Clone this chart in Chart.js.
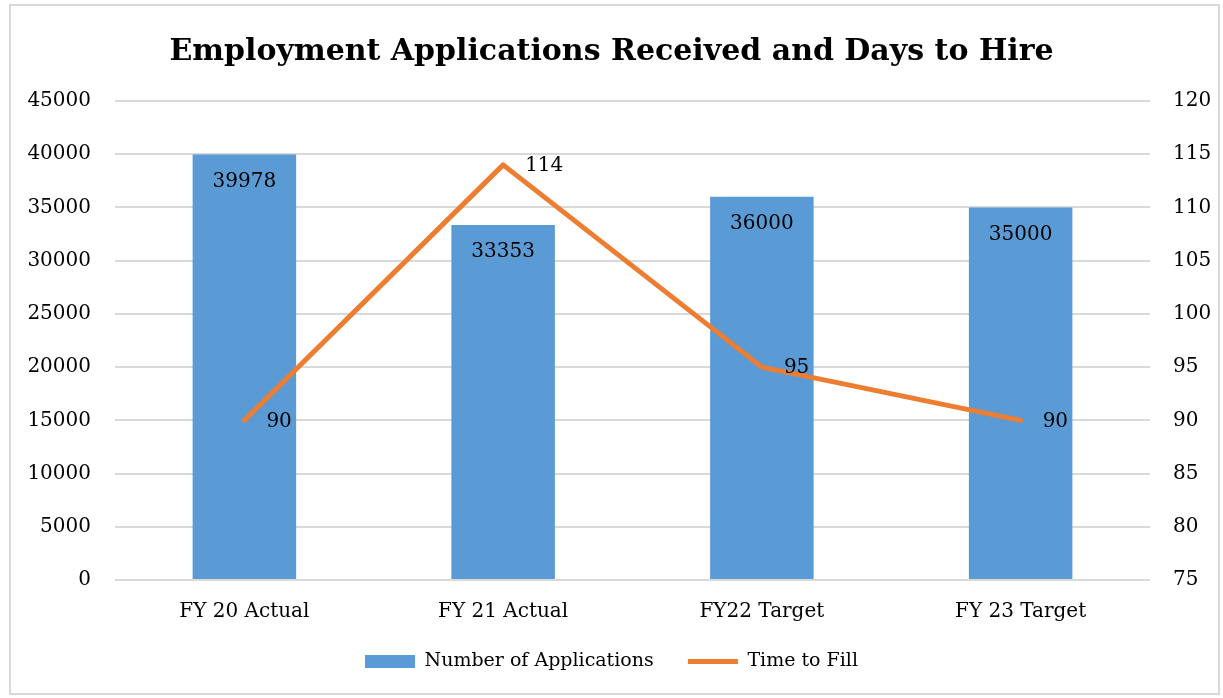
<!DOCTYPE html>
<html>
<head>
<meta charset="utf-8">
<script src="https://cdn.jsdelivr.net/npm/chart.js@4.4.0/dist/chart.umd.min.js"></script>
<style>
  html, body { margin: 0; padding: 0; background: #fff; }
  #wrap { position: relative; width: 1223px; height: 698px; }
  #frame { position: absolute; left: 9px; top: 4px; width: 1207px; height: 687px; border: 2px solid #d9d9d9; }
  canvas { position: absolute; left: 0; top: 0; }
</style>
</head>
<body>
<div id="wrap">
  <div id="frame"></div>
  <canvas id="chart" width="1223" height="698"></canvas>
</div>
<script>
const categories = ['FY 20 Actual', 'FY 21 Actual', 'FY22 Target', 'FY 23 Target'];
const applications = [39978, 33353, 36000, 35000];
const timeToFill = [90, 114, 95, 90];
const leftTicks = [0, 5000, 10000, 15000, 20000, 25000, 30000, 35000, 40000, 45000];
const rightTicks = [75, 80, 85, 90, 95, 100, 105, 110, 115, 120];

const BLUE = '#5b9bd5';
const ORANGE = '#ed7d31';
const FONT = 'DejaVu Serif';

// value labels: inside the top of bars, right of line points
const valueLabels = {
  id: 'valueLabels',
  afterDatasetsDraw(chart) {
    const ctx = chart.ctx;
    ctx.save();
    ctx.font = '20px "' + FONT + '"';
    ctx.fillStyle = '#000';
    ctx.textBaseline = 'middle';
    chart.getDatasetMeta(1).data.forEach((bar, i) => {
      ctx.textAlign = 'center';
      ctx.fillText(String(applications[i]), bar.x, bar.y + 27);
    });
    chart.getDatasetMeta(0).data.forEach((pt, i) => {
      ctx.textAlign = 'left';
      ctx.fillText(String(timeToFill[i]), pt.x + 22, pt.y + 1);
    });
    ctx.restore();
  }
};

new Chart(document.getElementById('chart'), {
  data: {
    labels: categories,
    datasets: [
      {
        type: 'line',
        label: 'Time to Fill',
        data: timeToFill,
        yAxisID: 'y1',
        borderColor: ORANGE,
        backgroundColor: ORANGE,
        borderWidth: 5,
        borderCapStyle: 'round',
        borderJoinStyle: 'round',
        pointRadius: 0,
        pointStyle: 'line',
        tension: 0,
        order: 0
      },
      {
        type: 'bar',
        label: 'Number of Applications',
        data: applications,
        yAxisID: 'y',
        backgroundColor: BLUE,
        borderWidth: 0,
        pointStyle: 'rect',
        categoryPercentage: 1,
        barPercentage: 0.4,
        order: 1
      }
    ]
  },
  options: {
    responsive: false,
    animation: false,
    layout: { padding: { top: 0, bottom: 17, left: 0, right: 0 } },
    plugins: {
      title: {
        display: true,
        text: 'Employment Applications Received and Days to Hire',
        color: '#000',
        font: { family: FONT, size: 30, weight: 'bold' },
        padding: { top: 34, bottom: 31 }
      },
      legend: {
        position: 'bottom',
        reverse: true,
        labels: {
          usePointStyle: true,
          pointStyleWidth: 50,
          boxHeight: 13,
          padding: 10,
          color: '#000',
          font: { family: FONT, size: 19 },
          generateLabels(chart) {
            const items = Chart.defaults.plugins.legend.labels.generateLabels(chart);
            // extra room between the two legend entries
            items.forEach(it => { if (it.datasetIndex === 1) it.text += '    '; });
            return items;
          }
        }
      },
      tooltip: { enabled: false }
    },
    scales: {
      x: {
        grid: { display: false },
        border: { display: false },
        ticks: { color: '#000', padding: 12, font: { family: FONT, size: 20 } },
        afterFit(scale) { scale.height = 62; }
      },
      y: {
        position: 'left',
        min: 0,
        max: 45000,
        afterBuildTicks(scale) { scale.ticks = leftTicks.map(v => ({ value: v })); },
        grid: { color: '#d9d9d9', lineWidth: 2, drawTicks: false },
        border: { display: false },
        ticks: { color: '#000', padding: 24, font: { family: FONT, size: 20 }, callback: v => String(v) },
        afterFit(scale) { scale.width = 115; }
      },
      y1: {
        position: 'right',
        min: 75,
        max: 120,
        afterBuildTicks(scale) { scale.ticks = rightTicks.map(v => ({ value: v })); },
        grid: { display: false, drawTicks: false },
        border: { display: false },
        ticks: { color: '#000', padding: 23, font: { family: FONT, size: 20 }, callback: v => String(v) },
        afterFit(scale) { scale.width = 73; }
      }
    }
  },
  plugins: [valueLabels]
});
</script>
</body>
</html>
